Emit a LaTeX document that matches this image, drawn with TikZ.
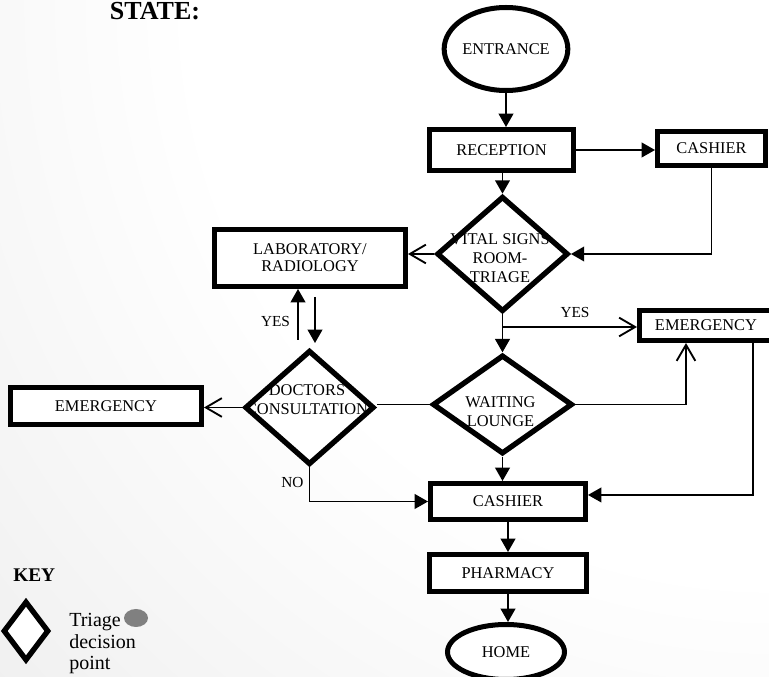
\documentclass[tikz,border=0pt]{standalone}
\usepackage{fontspec}
\setmainfont{Liberation Serif}
\usetikzlibrary{shapes.geometric,arrows.meta,calc}
\pgfdeclareradialshading{bgshade}{\pgfpoint{0bp}{0bp}}{color(0bp)=(white); color(14bp)=(white); color(50bp)=(black!19)}
\begin{document}
\begin{tikzpicture}[x=0.75pt,y=-0.75pt,
  lbl/.style={font=\fontsize{12.3}{14.25}\selectfont, align=center, inner sep=0pt},
  small/.style={font=\fontsize{11.5}{13}\selectfont, inner sep=0pt},
  box/.style={draw, line width=3.75pt, fill=white, inner sep=0pt, lbl},
  oval/.style={ellipse, draw, line width=3.75pt, fill=white, inner sep=0pt, lbl},
  dia/.style={diamond, inner sep=0pt},
  diafill/.style={dia, fill=white},
  diaborder/.style={dia, draw, line width=4pt},
  conn/.style={line width=1.4pt},
  farrow/.style={conn, -{Triangle[length=10pt,width=11pt]}},
  oarrow/.style={conn, -{Straight Barb[length=12pt,width=14pt]}},
]
\useasboundingbox (0,0) rectangle (769,677);
\begin{scope}
  \clip (0,0) rectangle (769,677);
  \shade[shading=bgshade] (769,0) circle (1030);
\end{scope}

% title and key
\node[font=\bfseries\fontsize{19.5}{22}\selectfont, anchor=base, inner sep=0pt] (state) at (155,20) {STATE:};
\node[font=\bfseries\fontsize{14.5}{16}\selectfont, anchor=base west, inner sep=0pt] (key) at (13,582) {KEY};
\node[diaborder, fill=white, minimum width=34.3pt, minimum height=44.8pt] (keydia) at (26,631) {};
\node[font=\fontsize{15}{16.1}\selectfont, align=left, anchor=north west, inner sep=0pt] (keytext) at (69,613.3) {Triage\\decision\\point};
\node[ellipse, fill=black!50, minimum width=18pt, minimum height=13.5pt, inner sep=0pt] (dot) at (136,618) {};

% boxes and ovals
\node[oval, minimum width=87.75pt, minimum height=62.25pt] (entrance) at (506,49) {ENTRANCE};
\node[box, minimum width=108pt, minimum height=30.75pt] (reception) at (501.5,150) {RECEPTION};
\node[box, minimum width=81pt, minimum height=25.5pt] (cashA) at (711.5,148.5) {CASHIER};
\node[box, minimum width=143.25pt, minimum height=42.75pt, font=\fontsize{12.3}{12.75}\selectfont] (lab) at (310,258) {LABORATORY/\\RADIOLOGY};
\node[box, minimum width=99.75pt, minimum height=22.5pt] (emR) at (706,325.5) {EMERGENCY};
\node[box, minimum width=143.25pt, minimum height=27.75pt] (emL) at (106,406) {EMERGENCY};
\node[box, minimum width=116.25pt, minimum height=27pt] (cash2) at (508,501.5) {CASHIER};
\node[box, minimum width=117.75pt, minimum height=27.75pt] (pharm) at (508,573) {PHARMACY};
\node[oval, minimum width=87.75pt, minimum height=41.25pt] (home) at (506,652) {HOME};

% diamonds: fill, text, then border on top
\node[diafill, minimum width=98.6pt, minimum height=86.5pt] (vsbg) at (502.5,254) {};
\node[lbl] (vstext) at (500,258) {VITAL SIGNS\\ROOM-\\TRIAGE};
\node[diaborder, minimum width=98.6pt, minimum height=86.5pt] (vs) at (502.5,254) {};

\node[diafill, minimum width=105pt, minimum height=74.25pt] (wlbg) at (502.5,404.5) {};
\node[lbl] (wltext) at (500.5,412) {WAITING\\LOUNGE};
\node[diaborder, minimum width=105pt, minimum height=74.25pt] (wl) at (502.5,404.5) {};

\node[diafill, minimum width=97pt, minimum height=85.8pt] (docbg) at (309.5,407.5) {};
\node[lbl] (doctext) at (307,400) {DOCTORS\\CONSULTATION};
\node[diaborder, minimum width=97pt, minimum height=85.8pt] (doc) at (309.5,407.5) {};

% helper coordinates
\coordinate (ybr) at (0,327);
\coordinate (yesup) at (298,340);
\coordinate (labdn) at (315,297);
\coordinate (docin) at (315,343);

% connectors
\draw[farrow] (entrance.south) -- (entrance.south |- reception.north);
\draw[farrow] (reception.east) -- (reception.east -| cashA.west);
\draw[farrow] (cashA.south) |- (vs.east);
\draw[farrow] (reception.south -| vs.north) -- (vs.north);
\draw[oarrow] (vs.west) -- (vs.west -| lab.east);
\draw[farrow] (yesup) -- (yesup |- lab.south);
\draw[farrow] (labdn) -- (docin);
\draw[farrow] (vs.south) -- (wl.north);
\draw[oarrow] (vs.south |- ybr) -- (ybr -| emR.west);
\draw[oarrow] (wl.east) -| ([xshift=-15pt]emR.south);
\draw[farrow] ([xshift=35.25pt]emR.south) |- ([yshift=4.9pt]cash2.east);
\draw[conn] (wl.west) -- (wl.west -| doc.east);
\draw[oarrow] (doc.west) -- (doc.west -| emL.east);
\draw[farrow] (doc.south) |- (cash2.west);
\draw[farrow] (wl.south) -- (wl.south |- cash2.north);
\draw[farrow] (cash2.south) -- (cash2.south |- pharm.north);
\draw[farrow] (pharm.south) -- (pharm.south |- home.north);

% labels
\node[small, anchor=base] (yes1) at (275.5,327) {YES};
\node[small, anchor=base] (yes2) at (575,318) {YES};
\node[small, anchor=base] (no) at (292.5,488) {NO};
\end{tikzpicture}
\end{document}
